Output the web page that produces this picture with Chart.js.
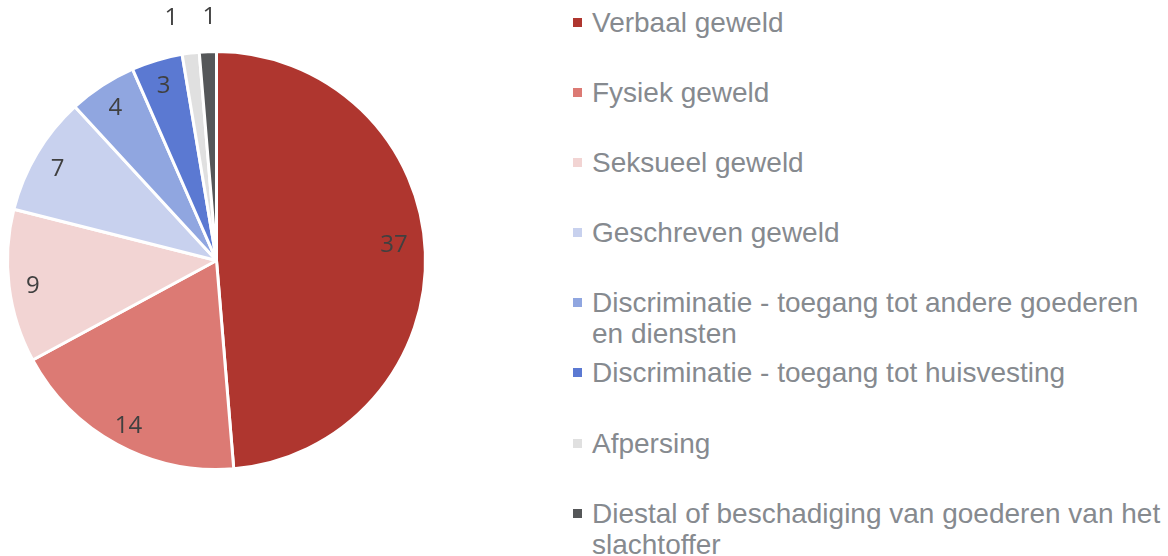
<!DOCTYPE html>
<html>
<head>
<meta charset="utf-8">
<script src="https://cdn.jsdelivr.net/npm/chart.js@4.4.0/dist/chart.umd.min.js"></script>
<style>
  html, body { margin: 0; padding: 0; background: #ffffff; }
  body { width: 1168px; height: 556px; position: relative; overflow: hidden; }
  #chart { position: absolute; left: 0; top: 0; }
  #legend { position: absolute; left: 572px; top: 7px; margin: 0; padding: 0; list-style: none;
            font-family: "Liberation Sans", Arial, sans-serif; font-size: 28px; color: #868a8f; }
  #legend li { height: 70.1px; position: relative; padding-left: 20px; line-height: 31px; white-space: nowrap; }
  #legend li span.sw { position: absolute; left: 1px; top: 11px; width: 9px; height: 9px; }
</style>
</head>
<body>
<canvas id="chart" width="560" height="556"></canvas>
<ul id="legend"></ul>
<script>
const categories = [
  'Verbaal geweld',
  'Fysiek geweld',
  'Seksueel geweld',
  'Geschreven geweld',
  ['Discriminatie - toegang tot andere goederen', 'en diensten'],
  'Discriminatie - toegang tot huisvesting',
  'Afpersing',
  ['Diestal of beschadiging van goederen van het', 'slachtoffer']
];
const values = [37, 14, 9, 7, 4, 3, 1, 1];
const colors = ['#af362f', '#dc7a74', '#f2d4d3', '#c8d1ee', '#90a6e0', '#5b79d2', '#e0e0e0', '#555759'];

const labelPlugin = {
  id: 'sliceLabels',
  afterDatasetsDraw(chart) {
    const ctx = chart.ctx;
    const meta = chart.getDatasetMeta(0);
    ctx.save();
    ctx.font = '400 24px "Open Sans", Lato, sans-serif';
    ctx.fillStyle = '#404040';
    ctx.textAlign = 'center';
    ctx.textBaseline = 'middle';
    const placed = [];
    meta.data.forEach((arc, i) => {
      const p = arc.getProps(['x', 'y', 'startAngle', 'endAngle', 'outerRadius'], true);
      const mid = (p.startAngle + p.endAngle) / 2;
      const span = p.endAngle - p.startAngle;
      let r, x, y;
      if (span < 0.15) {
        r = p.outerRadius + 35;
        x = p.x + Math.cos(mid) * r + 3;
        y = p.y + Math.sin(mid) * r;
        placed.push({ i, x, y });
      } else {
        r = p.outerRadius * (span > 2 ? 0.85 : 0.885);
        x = p.x + Math.cos(mid) * r;
        y = p.y + Math.sin(mid) * r + (span > 2 ? -8 : 3);
        ctx.fillText(String(values[i]), x, y);
      }
    });
    for (let k = placed.length - 2; k >= 0; k--) {
      if (placed[k + 1].x - placed[k].x < 38) placed[k].x = placed[k + 1].x - 38;
    }
    placed.forEach(o => ctx.fillText(String(values[o.i]), o.x, o.y));
    ctx.restore();
  }
};

new Chart(document.getElementById('chart'), {
  type: 'pie',
  data: {
    labels: categories,
    datasets: [{
      data: values,
      backgroundColor: colors,
      borderColor: '#ffffff',
      borderWidth: 3,
      hoverOffset: 0
    }]
  },
  options: {
    responsive: false,
    animation: false,
    layout: { padding: { left: 6, top: 50, right: 133, bottom: 85 } },
    plugins: { legend: { display: false }, tooltip: { enabled: false } }
  },
  plugins: [labelPlugin]
});

const ul = document.getElementById('legend');
categories.forEach((c, i) => {
  const li = document.createElement('li');
  const sw = document.createElement('span');
  sw.className = 'sw';
  sw.style.background = colors[i];
  li.appendChild(sw);
  const lines = Array.isArray(c) ? c : [c];
  lines.forEach((t, j) => {
    if (j > 0) li.appendChild(document.createElement('br'));
    li.appendChild(document.createTextNode(t));
  });
  ul.appendChild(li);
});
</script>
</body>
</html>
